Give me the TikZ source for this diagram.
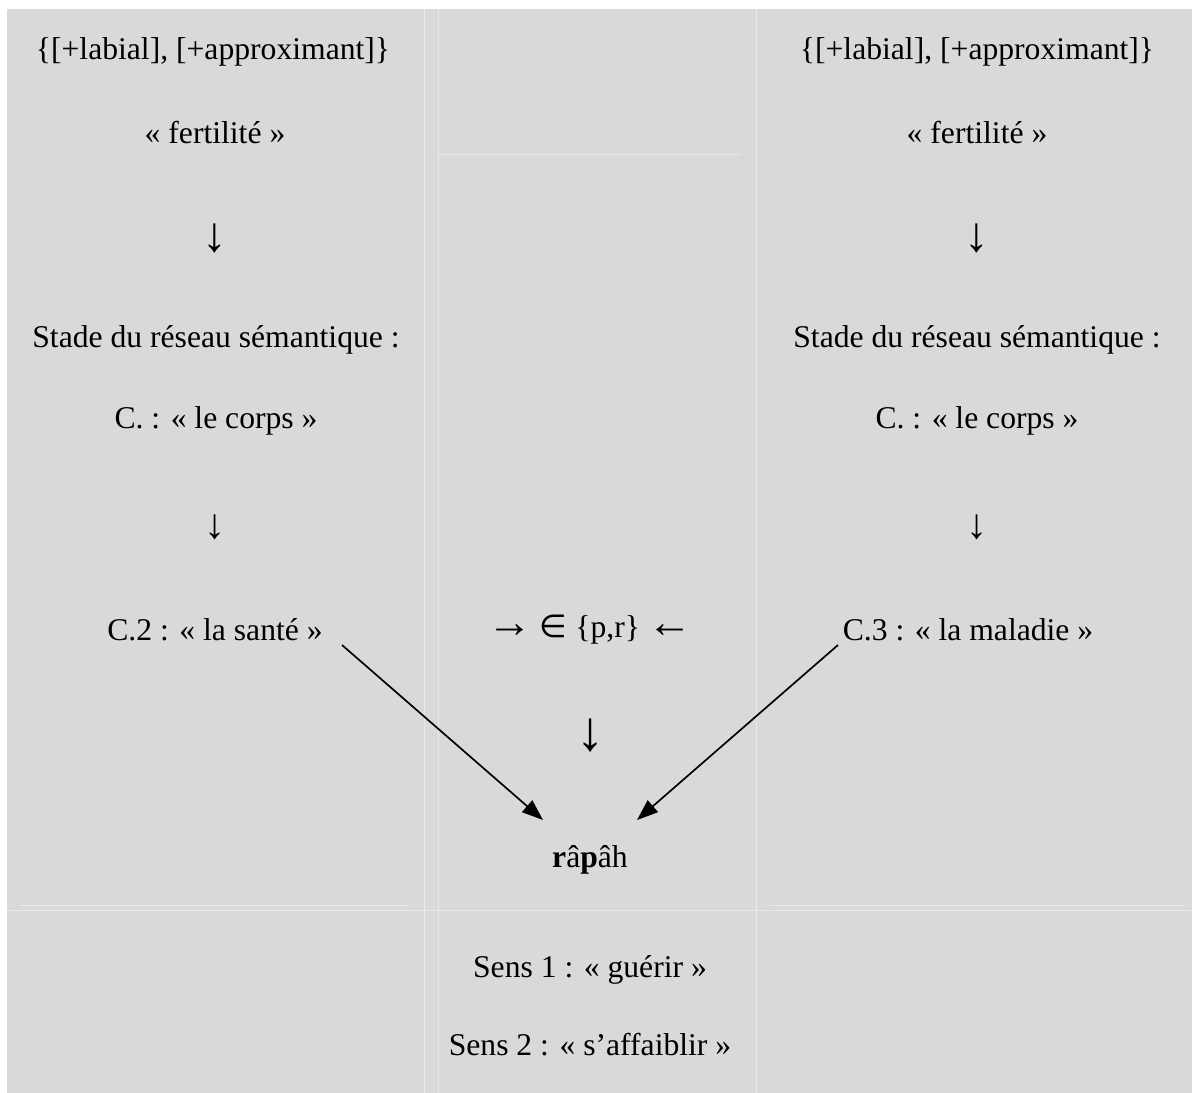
\documentclass[tikz,border=0pt]{standalone}
\usepackage{fontspec}
\setmainfont{Liberation Serif}
\newfontfamily\symfont{DejaVu Sans}
\usetikzlibrary{arrows.meta}
\definecolor{cellgrey}{RGB}{217,217,217}
\definecolor{rulegrey}{RGB}{232,232,232}
\newcommand{\sidearrow}[1]{{\fontsize{32}{32}\selectfont #1}}
\tikzset{
  txt/.style={font=\fontsize{22.5}{27}\selectfont, inner sep=0pt},
  bigarrow/.style={font=\fontsize{40}{44}\selectfont, inner sep=0pt},
  midarrow/.style={font=\fontsize{35}{40}\selectfont, inner sep=0pt},
  smallarrow/.style={font=\fontsize{30}{34}\selectfont, inner sep=0pt},
  cellrule/.style={draw=rulegrey, line width=0.6pt},
  link/.style={-{Triangle[length=15pt,width=11pt]}, line width=1.2pt}
}
\begin{document}
\begin{tikzpicture}[x=0.025cm,y=-0.025cm]
    \useasboundingbox (0,0) rectangle (1192,1093);
    \fill[cellgrey] (7,9) rectangle (1192,1093);
    % faint table rules
    \draw[cellrule] (424,9) -- (424,1093);
    \draw[cellrule] (438,9) -- (438,1093);
    \draw[cellrule] (756,9) -- (756,1093);
    \draw[cellrule] (438,154) -- (741,154);
    \draw[cellrule] (20,905) -- (410,905);
    \draw[cellrule] (770,905) -- (1185,905);
    \draw[cellrule] (7,910) -- (1192,910);

    % left column
    \node[txt] (lfeat) at (213,52) {\{[+labial], [+approximant]\}};
    \node[txt] (lfert) at (215,133) {« fertilité »};
    \node[midarrow] (ldown1) at (215,238) {↓};
    \node[txt] (lstade) at (216,340) {Stade du réseau sémantique :};
    \node[txt] (lcorps) at (216,421) {C. : « le corps »};
    \node[smallarrow] (ldown2) at (215,527) {↓};
    \node[txt] (sante) at (215,630) {C.2 : « la santé »};

    % right column
    \node[txt] (rfeat) at (977,52) {\{[+labial], [+approximant]\}};
    \node[txt] (rfert) at (977,133) {« fertilité »};
    \node[midarrow] (rdown1) at (977,238) {↓};
    \node[txt] (rstade) at (977,340) {Stade du réseau sémantique :};
    \node[txt] (rcorps) at (977,421) {C. : « le corps »};
    \node[smallarrow] (rdown2) at (977,527) {↓};
    \node[txt] (maladie) at (968,630) {C.3 : « la maladie »};

    % middle column
    \node[txt] (pr) at (590,630) {\sidearrow{→} {\symfont ∈} \{p,r\} \sidearrow{←}};
    \node[bigarrow] (mdown) at (591,736) {↓};
    \node[txt] (rapah) at (590,860) {\textbf{r}â\textbf{p}âh};
    \node[txt] (sens1) at (590,970) {Sens 1 : « guérir »};
    \node[txt] (sens2) at (590,1045) {Sens 2 : « s’affaiblir »};

    % convergence
    \coordinate (santeend) at (342,645);
    \coordinate (maladieend) at (838,645);
    \coordinate (rapahl) at (543,820);
    \coordinate (rapahr) at (637,820);
    \draw[link] (santeend) -- (rapahl);
    \draw[link] (maladieend) -- (rapahr);
\end{tikzpicture}
\end{document}
